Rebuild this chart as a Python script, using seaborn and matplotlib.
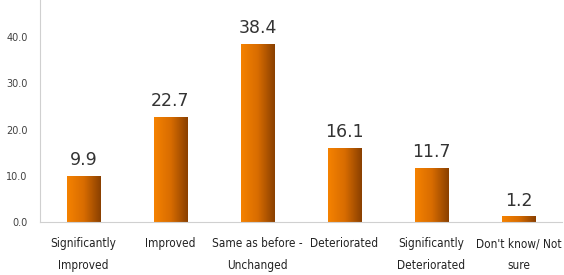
import numpy as np
import pandas as pd
import matplotlib
matplotlib.use("Agg")
import matplotlib.pyplot as plt
from matplotlib.colors import LinearSegmentedColormap
from matplotlib import font_manager
import seaborn as sns

categories = ["Significantly\nImproved", "Improved", "Same as before -\nUnchanged",
              "Deteriorated", "Significantly\nDeteriorated", "Don't know/ Not\nsure"]
values = [9.9, 22.7, 38.4, 16.1, 11.7, 1.2]
y_ticks = [0, 10, 20, 30, 40]

df = pd.DataFrame({"category": categories, "value": values})

sns.set_style("white")
plt.rcParams["font.family"] = ["DejaVu Sans"]

narrow = font_manager.FontProperties(family="DejaVu Sans", stretch="condensed", size=8.5)

fig = plt.figure(figsize=(5.64, 2.75), dpi=100)
ax = fig.add_axes([40 / 564, 53 / 275, 522 / 564, 222 / 275])

sns.barplot(data=df, x="category", y="value", color="#e87400", width=0.39, ax=ax, saturation=1)

# horizontal orange-to-brown gradient on each bar
grad = LinearSegmentedColormap.from_list("bar", ["#f58200", "#d86c00", "#8a4000"])
g = np.linspace(0, 1, 64).reshape(1, -1)
for p in ax.patches:
    x0, y0 = p.get_x(), p.get_y()
    w, h = p.get_width(), p.get_height()
    im = ax.imshow(g, cmap=grad, aspect="auto", extent=(x0, x0 + w, y0, y0 + h), zorder=p.get_zorder() + 0.1)
    im.set_clip_path(p)

for i, v in enumerate(values):
    ax.annotate(f"{v:.1f}", (i, v), xytext=(0, 5), textcoords="offset points",
                ha="center", va="bottom", fontsize=12.5, color="#333333")

ax.set_xlim(-0.5, len(categories) - 0.5)
ax.set_ylim(0, 48)
ax.set_yticks(y_ticks)
ax.set_yticklabels([f"{t:.1f}" for t in y_ticks], fontsize=7, color="#404040")
ax.set_xticks(range(len(categories)))
ax.set_xticklabels(categories, fontproperties=narrow, color="#222222", linespacing=1.85)
ax.set_xticks(np.arange(-0.5, len(categories), 1), minor=True)
ax.tick_params(axis="x", which="major", length=0, pad=11)
ax.tick_params(axis="x", which="minor", length=4, color="#d0d0d0", direction="out")
ax.tick_params(axis="y", length=3, color="#d0d0d0", direction="out", pad=6)
ax.set_xlabel("")
ax.set_ylabel("")

for s in ["top", "right"]:
    ax.spines[s].set_visible(False)
for s in ["left", "bottom"]:
    ax.spines[s].set_color("#d0d0d0")
    ax.spines[s].set_linewidth(0.8)

fig.savefig("out.png", dpi=100, facecolor="white")
